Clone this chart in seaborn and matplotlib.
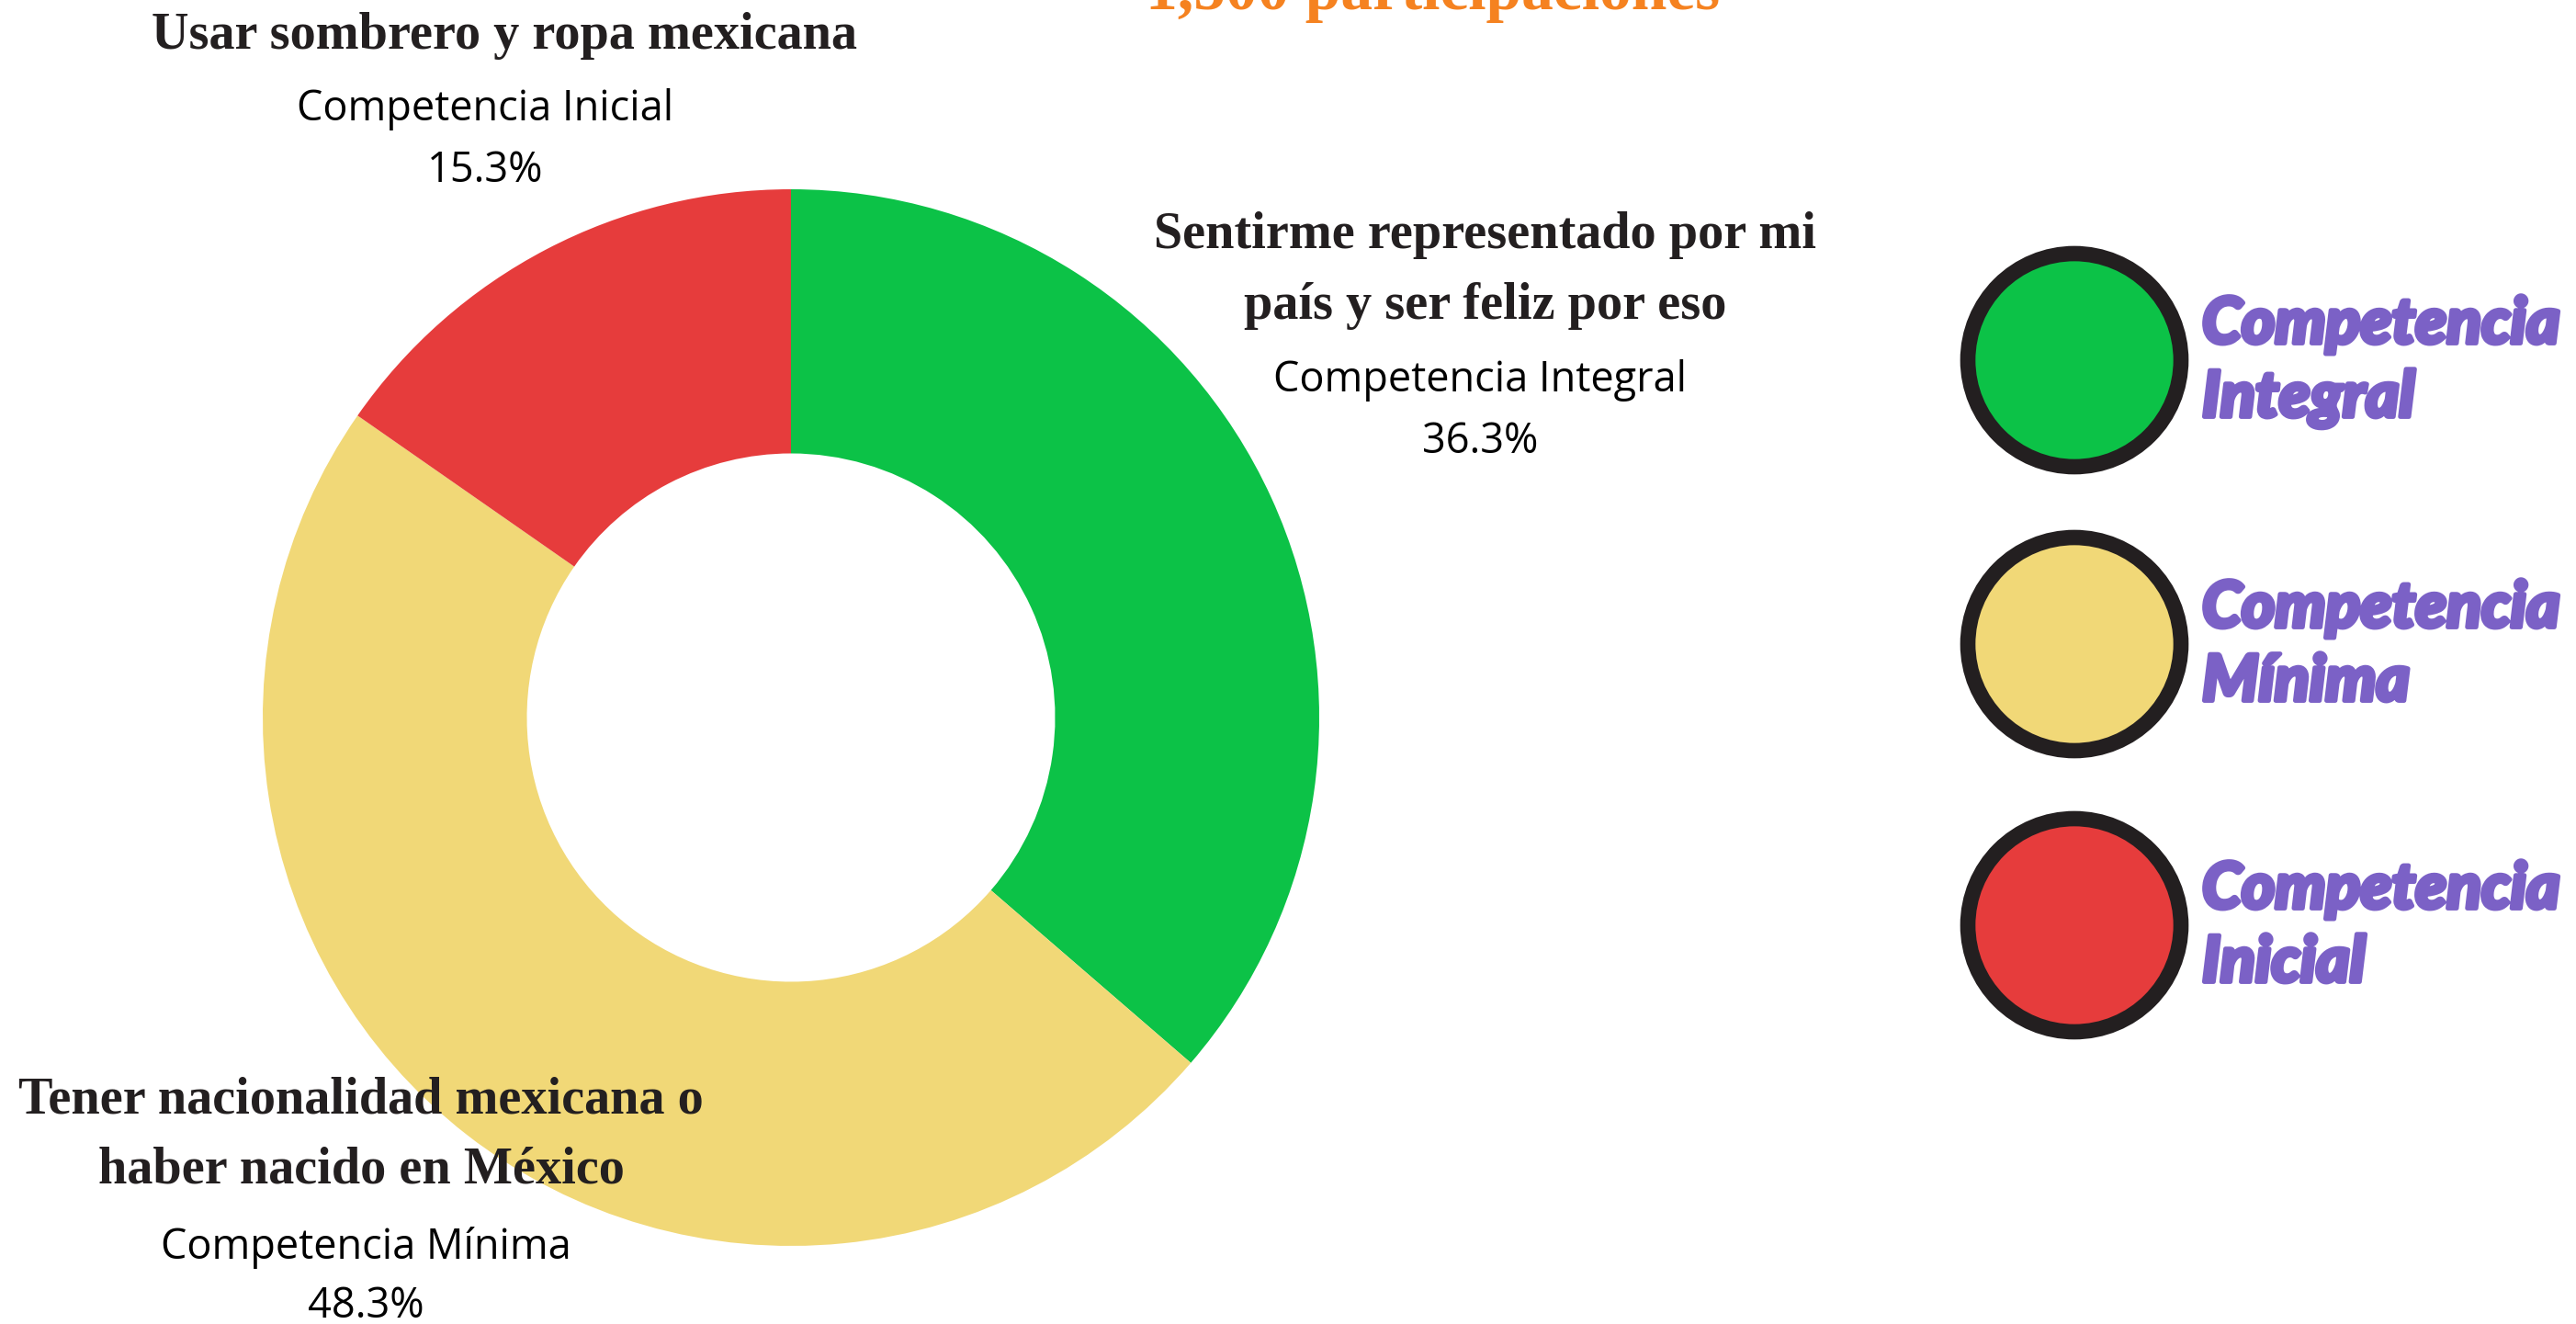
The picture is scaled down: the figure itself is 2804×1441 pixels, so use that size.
import matplotlib
matplotlib.use("Agg")
import matplotlib.pyplot as plt
import matplotlib.patheffects as pe
import seaborn as sns
from matplotlib.patches import Circle

# ---- data ----
categories = ["Competencia Integral", "Competencia Mínima", "Competencia Inicial"]
values = [36.3, 48.3, 15.3]
answers = [["Sentirme representado por mi", "país y ser feliz por eso"],
           ["Tener nacionalidad mexicana o", "haber nacido en México"],
           ["Usar sombrero y ropa mexicana"]]
pct_labels = ["36.3%", "48.3%", "15.3%"]
legend_labels = [["Competencia", "Integral"], ["Competencia", "Mínima"], ["Competencia", "Inicial"]]
colors = ["#0CC247", "#F1D877", "#E63C3C"]
title_text = "1,500 participaciones"

sns.set_theme(style="white")
plt.rcParams["font.family"] = ["Open Sans", "DejaVu Sans"]

W, H = 2804, 1441
fig = plt.figure(figsize=(W / 100, H / 100), dpi=100)
fig.patch.set_facecolor("white")

# donut axes
cx, cy, r = 861, 781, 575
ax = fig.add_axes([(cx - r) / W, (H - cy - r) / H, 2 * r / W, 2 * r / H])
ax.pie(values, colors=colors, startangle=90, counterclock=False,
       radius=1, wedgeprops=dict(width=0.5, linewidth=0))
ax.set_xlim(-1, 1)
ax.set_ylim(-1, 1)
ax.set_aspect("equal")
ax.axis("off")

# overlay axes in pixel coords
ov = fig.add_axes([0, 0, 1, 1])
ov.set_xlim(0, W)
ov.set_ylim(H, 0)
ov.axis("off")
ov.patch.set_alpha(0)

serif = ["Liberation Serif", "DejaVu Serif"]
dark = "#231F20"

# title (cut off at the top, as in the reference)
ov.text(1560, 10, title_text, ha="center", va="baseline", fontsize=50,
        fontweight="bold", family=serif, color="#F58220")

# slice labels
ans_x = [1617, 393, 549]
ans_y = [[256, 333], [1198, 1273], [39]]
cat_x = [1611, 398, 528]
cat_y = [414, 1358, 119]
pct_y = [481, 1422, 186]
for i in range(3):
    for line, yy in zip(answers[i], ans_y[i]):
        ov.text(ans_x[i], yy, line, ha="center", va="center", fontsize=40.5,
                fontweight="bold", family=serif, color=dark)
    ov.text(cat_x[i], cat_y[i], categories[i], ha="center", va="center",
            fontsize=32.5, color="black")
    ov.text(cat_x[i], pct_y[i], pct_labels[i], ha="center", va="center",
            fontsize=32.5, color="black")

# legend
leg_y = [392, 701, 1007]
stroke = [pe.withStroke(linewidth=3.5, foreground="#7B61C6")]
for i, yy in enumerate(leg_y):
    ov.add_patch(Circle((2258, yy), 116, facecolor=colors[i], edgecolor=dark,
                        linewidth=12))
    for line, dy in zip(legend_labels[i], (-38, 42)):
        ov.text(2397, yy + dy, line, ha="left", va="center", fontsize=50,
                fontweight="black", style="italic",
                family=["Lato", "DejaVu Sans"], color="#7B61C6",
                path_effects=stroke)

fig.savefig("out.png", dpi=100, facecolor="white")
